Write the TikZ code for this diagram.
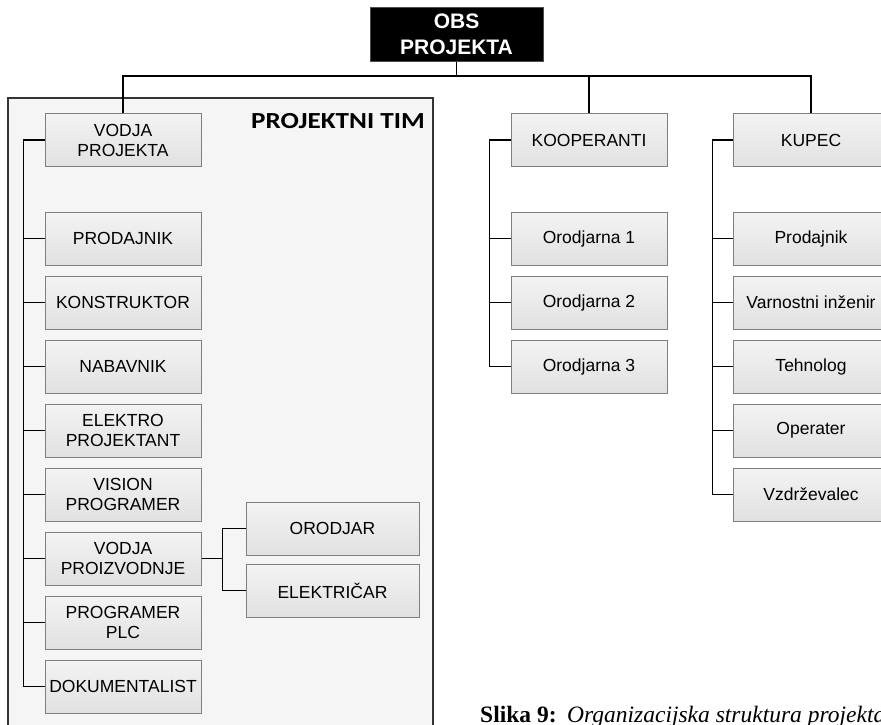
\documentclass[tikz,border=0pt]{standalone}
\usepackage{fontspec}
\setmainfont{Liberation Serif}
\newfontfamily\arialf{Liberation Sans}
\newfontfamily\calib{Carlito}
\usetikzlibrary{calc}
\definecolor{boxtop}{HTML}{F3F3F3}
\definecolor{boxbot}{HTML}{E1E1E1}
\definecolor{boxline}{HTML}{7F7F7F}
\definecolor{framefill}{HTML}{F5F5F5}
\definecolor{frameline}{HTML}{333333}
\tikzset{
  box/.style={draw=boxline, line width=1pt, top color=boxtop, bottom color=boxbot,
    minimum width=156pt, minimum height=53pt, inner sep=0pt, align=center,
    font=\arialf\fontsize{17.5}{20}\selectfont},
  widebox/.style={box, minimum width=173pt},
  rootbox/.style={draw=gray!60!black, line width=1pt, fill=black, text=white,
    minimum width=173pt, minimum height=54pt, inner sep=0pt, align=center,
    font=\arialf\bfseries\fontsize{21}{26}\selectfont},
  conn/.style={draw=black, line width=1.8pt, line join=miter}
}
\begin{document}
\begin{tikzpicture}[x=1pt,y=-1pt]
\useasboundingbox (0,0) rectangle (881,724);
\clip (0,0) rectangle (881,724);
\fill[white] (0,0) rectangle (881,724);

% project team frame
\draw[frameline, fill=framefill, line width=1.3pt] (8,98) rectangle (433,760);
\node[anchor=base east, inner sep=0pt] (ptim) at (425,128.3)
  {\scalebox{1.18}[1]{\calib\bfseries\fontsize{23}{26}\selectfont PROJEKTNI TIM}};

% root
\node[rootbox] (obs) at (456.5,34) {OBS\\PROJEKTA};

% project team column
\node[box] (vp)   at (123,140)   {VODJA\\PROJEKTA};
\node[box] (prod) at (123,238.5) {PRODAJNIK};
\node[box] (kon)  at (123,302.5) {KONSTRUKTOR};
\node[box] (nab)  at (123,366.5) {NABAVNIK};
\node[box] (ele)  at (123,430.5) {ELEKTRO\\PROJEKTANT};
\node[box] (vis)  at (123,494.5) {VISION\\PROGRAMER};
\node[box] (vpr)  at (123,558.5) {VODJA\\PROIZVODNJE};
\node[box] (plc)  at (123,622.5) {PROGRAMER\\PLC};
\node[box] (dok)  at (123,686.5) {DOKUMENTALIST};
\node[widebox] (oro) at (332.5,528.5) {ORODJAR};
\node[widebox] (elk) at (332.5,590.5) {ELEKTRIČAR};

% subcontractors
\node[box] (koop) at (589,140)   {KOOPERANTI};
\node[box] (or1)  at (589,238.5) {Orodjarna 1};
\node[box] (or2)  at (589,302.5) {Orodjarna 2};
\node[box] (or3)  at (589,366.5) {Orodjarna 3};

% customer
\node[box] (kup) at (811,140)   {KUPEC};
\node[box] (kp)  at (811,238.5) {Prodajnik};
\node[box] (kv)  at (811,302.5) {Varnostni inženir};
\node[box] (kt)  at (811,366.5) {Tehnolog};
\node[box] (ko)  at (811,430.5) {Operater};
\node[box] (kz)  at (811,494.5) {Vzdrževalec};

% top-level bus
\coordinate (bus) at (456.5,76);
\draw[conn] (obs.south) -- (bus);
\draw[conn] (vp.north) |- (bus) -| (kup.north);
\draw[conn] (koop.north) -- (koop.north |- bus);

% project team spine
\draw[conn] (vp.west) -- ++(-21,0) |- (dok.west);
\foreach \n in {prod,kon,nab,ele,vis,vpr,plc}
  \draw[conn] (\n.west) -- ++(-21,0);

% production branch
\draw[conn] (vpr.east) -- ++(21,0) coordinate (vj);
\draw[conn] (oro.west) -| (vj) |- (elk.west);

% subcontractor spine
\draw[conn] (koop.west) -- ++(-21,0) |- (or3.west);
\foreach \n in {or1,or2}
  \draw[conn] (\n.west) -- ++(-21,0);

% customer spine
\draw[conn] (kup.west) -- ++(-20,0) |- (kz.west);
\foreach \n in {kp,kv,kt,ko}
  \draw[conn] (\n.west) -- ++(-20,0);

% caption
\node[anchor=base west, inner sep=0pt] (cap) at (480,722)
  {\fontsize{23.5}{28}\selectfont\textbf{Slika 9:}\hspace{0.45em}\textit{Organizacijska struktura projekta}};
\end{tikzpicture}
\end{document}
